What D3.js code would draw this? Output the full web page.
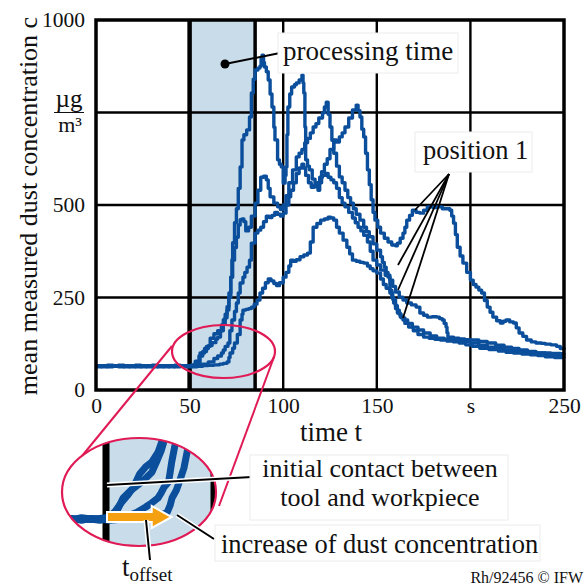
<!DOCTYPE html>
<html>
<head>
<meta charset="utf-8">
<script src="https://cdn.jsdelivr.net/npm/d3@7"></script>
<style>
  body { margin: 0; background: #fff; }
  svg { display: block; }
  text { font-family: "Liberation Serif", "Times New Roman", serif; fill: #111; }
</style>
</head>
<body>
<svg id="chart" width="588" height="587"></svg>
<script>
// ---- data -------------------------------------------------------------
const timeTicks = [0, 50, 100, 150, 200, 250];
const timeTickLabels = ["0", "50", "100", "150", "s", "250"];
const concTicks = [0, 250, 500, 750, 1000];
const concTickLabels = ["0", "250", "500", "", "1000"];
const processingWindow = [50, 85];   // s

// mean measured dust concentration, [time s, c µg/m³]
const run1 = [[0,66],[3,64],[6,67],[9,65],[12,63],[15,66],[18,64],[21,66],[24,63],[27,65],[30,67],[33,64],[36,66],[39,63],[42,65],[45,64],[48,66],[51,68],[53,78],[55,92],[57,104],[59,118],[61,140],[63,152],[65,160],[67,176],[68,190],[69,205],[70,225],[71,262],[72,305],[72.6,352],[73,398],[74,452],[75,490],[76,545],[77,603],[78,676],[79,690],[80.5,703],[82,738],[83,803],[84,840],[85,865],[86.5,870],[87.6,875],[88.2,895],[88.7,905],[89.5,885],[90,873],[91,860],[92,838],[93,800],[94,765],[95,710],[95.6,676],[97,622],[98,610],[99,603],[100,559],[101,580],[101.5,603],[102,690],[102.5,765],[103.5,800],[104.5,819],[106,825],[107,830],[108.5,838],[110,851],[110.6,830],[111,803],[111.6,711],[112,622],[113,605],[114,595],[115.5,570],[117,549],[118.6,540],[119.5,560],[120.5,590],[122,610],[123.5,625],[125,650],[127,676],[128.5,670],[130,684],[131.5,695],[133,711],[135,735],[137,757],[139,770],[140,755],[141,738],[142,705],[143,684],[144,640],[145,595],[146,555],[147,514],[148,480],[149,459],[150.5,440],[152,424],[154,410],[156,400],[158,392],[160,390],[161,397],[162.5,410],[164,424],[165,440],[166,459],[167.5,472],[169,486],[171,480],[173,478],[175,486],[177,495],[180,493],[182,495],[185,490],[189,486],[190,470],[191,451],[192,420],[193,386],[194.5,362],[196,343],[198,318],[200,297],[201.5,285],[203,278],[204.5,270],[206,262],[207.5,242],[209,224],[210.5,210],[212,197],[214,187],[216,181],[217.5,186],[219,189],[221,184],[223,181],[224.5,168],[226,154],[228,145],[230,135],[232.5,130],[235,127],[238,126],[240,124],[243,122],[246,118],[248,112],[250,108]];

const run2 = [[0,64],[3,66],[6,63],[9,65],[12,67],[15,64],[18,65],[21,63],[24,66],[27,64],[30,65],[33,63],[36,66],[39,64],[42,67],[45,65],[48,63],[51,66],[53,72],[55.6,100],[58,112],[60,120],[62,128],[64,138],[65,143],[66.5,160],[68,178],[69,195],[70,216],[71,250],[72,305],[73,351],[74,385],[75,413],[76,446],[77,460],[78,462],[79,455],[80,430],[81.5,440],[83,470],[85,505],[86.5,540],[88,575],[89.5,578],[91,568],[92,545],[93,522],[95,505],[97,495],[98.5,488],[100,500],[101.5,525],[103,560],[105,595],[107,630],[108.5,640],[110,650],[111.5,668],[113,680],[114.5,695],[116,711],[117.5,720],[119,735],[121,749],[122,765],[123,778],[124,745],[125,711],[126,675],[127,640],[128.5,605],[130,576],[131.5,560],[133,540],[134.5,520],[136,505],[137.5,490],[139,475],[141,459],[143,440],[144.5,428],[146,414],[148,395],[150,378],[152,360],[153,345],[154,332],[155,318],[156,305],[157,270],[158,250],[159,235],[160,220],[161,208],[162.5,198],[164,189],[166.5,180],[169,170],[172,162],[175,154],[178.5,146],[182,140],[186,137],[191,135],[195.5,131],[200,127],[204.5,121],[209,116],[213.5,112],[218,108],[222.5,105],[227,103],[231.5,101],[236,100],[240,98],[244,96],[248,95],[250,94]];

const run3 = [[0,65],[3,63],[6,66],[9,64],[12,66],[15,63],[18,65],[21,67],[24,64],[27,66],[30,63],[33,65],[36,64],[39,66],[42,63],[45,66],[48,64],[51,65],[54,67],[57,70],[60,76],[63,85],[65,92],[67,100],[68,108],[69,118],[70.5,127],[71.5,160],[72.6,189],[74,212],[75,235],[76,262],[77,289],[78.5,305],[79.5,318],[80.7,332],[82,351],[83,397],[85,424],[86.5,432],[88,440],[89.5,455],[91,470],[92.5,466],[94,472],[95.5,480],[97,475],[98.5,470],[100,478],[101.5,500],[103,522],[104,540],[105.5,560],[107,585],[108.5,600],[110,610],[111,600],[112,580],[113.5,560],[115,548],[116.5,552],[118,560],[119.5,575],[121,580],[122.5,585],[124,575],[125.5,568],[127,560],[128.5,545],[130,520],[131.5,505],[133,495],[135,480],[137,465],[138.5,452],[140,440],[141.5,430],[143,418],[145,400],[146.5,375],[148,351],[150,338],[152,324],[154.5,310],[157,297],[158.5,280],[160,265],[162,251],[164,243],[166,235],[168.5,230],[171,224],[173,208],[175,202],[177,197],[179.5,198],[182,197],[183.5,193],[185,189],[186,180],[187,170],[187.5,155],[188,143],[191,140],[194,138],[197,136],[200,135],[204.5,131],[209,127],[213.5,121],[218,116],[222,112],[226,108],[230.5,104],[235,100],[239,100],[243,99],[248,98],[250,97]];

const run4 = [[0,63],[3,65],[6,64],[9,66],[12,64],[15,65],[18,63],[21,64],[24,66],[27,63],[30,65],[33,66],[36,63],[39,65],[42,64],[45,66],[48,65],[51,63],[54,64],[57,66],[60,67],[63,68],[66,70],[68,72],[70,76],[71,88],[71.6,100],[73,113],[74,127],[75.5,150],[77,189],[78,205],[78.5,216],[80,218],[81.5,220],[83,224],[84.5,232],[86,243],[87.6,262],[89,275],[90.5,290],[92,300],[93.5,295],[95,288],[96.5,282],[98,290],[100,305],[101.5,318],[103,335],[104,351],[105.5,348],[107,352],[109,360],[111,365],[113,370],[114.5,400],[116,440],[118,450],[120,459],[122,462],[124,467],[125.5,465],[127,459],[128.5,440],[130,424],[132,405],[134,386],[135.5,368],[137,351],[139,348],[141,345],[143,343],[145,335],[146.5,328],[148,322],[150,316],[152,300],[153.5,285],[155,275],[157,262],[158.5,245],[160,228],[161,216],[162,205],[163,195],[165,180],[167,170],[169.5,160],[172,150],[175,143],[178,140],[181,137],[184,135],[187.5,132],[191,130],[194,127],[197.5,122],[201,118],[205,113],[210,109],[215,105],[219,102],[223,100],[227.5,97],[232,95],[236,93],[240,90],[245,88],[250,86]];

const runs = [run1, run2, run3, run4];

// ---- drawing ------------------------------------------------------------
const BLUE = "#0b4f9c";
const SHADE = "#c9dcea";
const RED = "#e01a55";
const ORANGE = "#f5a010";
const SERIF = "Liberation Serif";

const svg = d3.select("#chart");
const x = d3.scaleLinear().domain([0, 250]).range([96, 564]);
const y = d3.scaleLinear().domain([0, 1000]).range([390, 20]);

// processing time band
svg.append("rect")
  .attr("x", x(processingWindow[0])).attr("y", y(1000))
  .attr("width", x(processingWindow[1]) - x(processingWindow[0]))
  .attr("height", y(0) - y(1000))
  .attr("fill", SHADE);

// grid
const grid = svg.append("g").attr("stroke", "#000");
grid.selectAll("line.h").data(concTicks.slice(1, -1)).join("line")
  .attr("x1", x(0)).attr("x2", x(250))
  .attr("y1", d => y(d)).attr("y2", d => y(d))
  .attr("stroke-width", 2.4);
grid.selectAll("line.v").data(timeTicks.slice(2, -1)).join("line")
  .attr("y1", y(0)).attr("y2", y(1000))
  .attr("x1", d => x(d)).attr("x2", d => x(d))
  .attr("stroke-width", 2.4);
grid.append("line")
  .attr("x1", x(processingWindow[0])).attr("x2", x(processingWindow[0]))
  .attr("y1", y(0)).attr("y2", y(1000)).attr("stroke-width", 4.5);
grid.append("line")
  .attr("x1", x(processingWindow[1])).attr("x2", x(processingWindow[1]))
  .attr("y1", y(0)).attr("y2", y(1000)).attr("stroke-width", 3.5);

// measured curves (sampled signal, drawn as steps)
const line = d3.line().x(d => x(d[0])).y(d => y(d[1])).curve(d3.curveStepAfter);
svg.append("g").selectAll("path").data(runs).join("path")
  .attr("d", line)
  .attr("fill", "none").attr("stroke", BLUE)
  .attr("stroke-width", 3.4).attr("stroke-linejoin", "round");

// frame
svg.append("rect")
  .attr("x", x(0)).attr("y", y(1000))
  .attr("width", x(250) - x(0)).attr("height", y(0) - y(1000))
  .attr("fill", "none").attr("stroke", "#000").attr("stroke-width", 3.5);

// axes
const yAxis = d3.axisLeft(y).tickValues(concTicks)
  .tickFormat((d, i) => concTickLabels[i]).tickSize(0).tickPadding(11);
svg.append("g").attr("transform", `translate(${x(0)},0)`).call(yAxis)
  .call(g => g.select(".domain").remove())
  .selectAll("text").attr("font-size", 21.5)
  .attr("font-family", SERIF).attr("fill", "#111");

const xAxis = d3.axisBottom(x).tickValues(timeTicks)
  .tickFormat((d, i) => timeTickLabels[i]).tickSize(0).tickPadding(8);
svg.append("g").attr("transform", `translate(0,${y(0)})`).call(xAxis)
  .call(g => g.select(".domain").remove())
  .selectAll("text").attr("font-size", 21.5)
  .attr("font-family", SERIF).attr("fill", "#111");

// unit µg/m³ at the 750 level
const unit = svg.append("g").attr("text-anchor", "middle");
unit.append("text").attr("x", 69).attr("y", y(750) - 6).attr("font-size", 25).text("µg");
unit.append("line").attr("x1", 54).attr("x2", 84).attr("y1", y(750)).attr("y2", y(750))
  .attr("stroke", "#111").attr("stroke-width", 1);
unit.append("text").attr("x", 70).attr("y", y(750) + 19).attr("font-size", 22)
  .text("m³");

// axis titles
svg.append("text").attr("x", 331).attr("y", 441).attr("text-anchor", "middle")
  .attr("font-size", 27).text("time t");
svg.append("text").attr("transform", "translate(37,206) rotate(-90)")
  .attr("text-anchor", "middle").attr("font-size", 26)
  .text("mean measured dust concentration c");

// label helper: white box with a faint edge
function labelBox(x0, y0, w, h) {
  svg.append("rect").attr("x", x0).attr("y", y0).attr("width", w).attr("height", h)
    .attr("fill", "#fff").attr("stroke", "#ececec").attr("stroke-width", 1);
}

// processing time callout
svg.append("line").attr("x1", 225).attr("y1", 64).attr("x2", 280).attr("y2", 53)
  .attr("stroke", "#000").attr("stroke-width", 2);
svg.append("circle").attr("cx", 225).attr("cy", 64).attr("r", 4.5).attr("fill", "#000");
labelBox(278, 33, 180, 40);
svg.append("text").attr("x", 283).attr("y", 60).attr("font-size", 27).text("processing time");

// position 1 callout
labelBox(415, 132, 117, 40);
svg.append("text").attr("x", 423).attr("y", 159).attr("font-size", 26.5).text("position 1");
const apex = [449, 174];
const pointerEnds = [[415, 210], [398, 265], [398, 290], [403, 318]];
svg.append("g").selectAll("line").data(pointerEnds).join("line")
  .attr("x1", apex[0]).attr("y1", apex[1])
  .attr("x2", d => d[0]).attr("y2", d => d[1])
  .attr("stroke", "#000").attr("stroke-width", 1.8);

// magnifier: ring on the plot, connectors, enlarged inset
const ring = { cx: 223.5, cy: 351.5, rx: 51.5, ry: 26.5 };
const lens = { cx: 139, cy: 492, rx: 77, ry: 54 };

svg.append("line").attr("x1", 172).attr("y1", 346).attr("x2", 82).attr("y2", 456)
  .attr("stroke", RED).attr("stroke-width", 2);
svg.append("line").attr("x1", 274).attr("y1", 357).attr("x2", 219).attr("y2", 506)
  .attr("stroke", RED).attr("stroke-width", 2);
svg.append("ellipse").attr("cx", ring.cx).attr("cy", ring.cy)
  .attr("rx", ring.rx).attr("ry", ring.ry)
  .attr("fill", "none").attr("stroke", RED).attr("stroke-width", 2.2);

const defs = svg.append("defs");
defs.append("clipPath").attr("id", "lensClip").append("ellipse")
  .attr("cx", lens.cx).attr("cy", lens.cy).attr("rx", lens.rx).attr("ry", lens.ry);

const xi = d3.scaleLinear().domain([50, 85]).range([106, 213]);
const yi = d3.scaleLinear().domain([65, 200]).range([519, 438]);
const inset = svg.append("g").attr("clip-path", "url(#lensClip)");
inset.append("rect").attr("x", lens.cx - lens.rx).attr("y", lens.cy - lens.ry)
  .attr("width", lens.rx * 2).attr("height", lens.ry * 2).attr("fill", "#fff");
inset.append("rect").attr("x", xi(processingWindow[0])).attr("y", lens.cy - lens.ry)
  .attr("width", xi(processingWindow[1]) - xi(processingWindow[0]))
  .attr("height", lens.ry * 2).attr("fill", SHADE);
inset.append("line").attr("x1", xi(processingWindow[0])).attr("x2", xi(processingWindow[0]))
  .attr("y1", lens.cy - lens.ry).attr("y2", lens.cy + lens.ry)
  .attr("stroke", "#000").attr("stroke-width", 7);
inset.append("line").attr("x1", xi(processingWindow[1])).attr("x2", xi(processingWindow[1]))
  .attr("y1", lens.cy - lens.ry).attr("y2", lens.cy + lens.ry)
  .attr("stroke", "#000").attr("stroke-width", 5);
const insetLine = d3.line().x(d => xi(d[0])).y(d => yi(d[1]));
inset.append("g").selectAll("path").data(runs).join("path")
  .attr("d", insetLine)
  .attr("fill", "none").attr("stroke", BLUE)
  .attr("stroke-width", 7).attr("stroke-linejoin", "round");

// t_offset arrow from the first contact to the rise of the last run
const arrowStart = xi(processingWindow[0]) + 1;
const arrowEnd = xi(71.5);
const ay = 517;
const arrowPath = `M${arrowStart},${ay - 5} L${arrowEnd - 20},${ay - 5} L${arrowEnd - 20},${ay - 11}
  L${arrowEnd},${ay} L${arrowEnd - 20},${ay + 11} L${arrowEnd - 20},${ay + 5} L${arrowStart},${ay + 5} Z`;
inset.append("path").attr("d", arrowPath).attr("fill", ORANGE)
  .attr("stroke", "#fff").attr("stroke-width", 2).attr("stroke-linejoin", "miter");

svg.append("ellipse").attr("cx", lens.cx).attr("cy", lens.cy)
  .attr("rx", lens.rx).attr("ry", lens.ry)
  .attr("fill", "none").attr("stroke", RED).attr("stroke-width", 2.2);

// inset callouts
function pointer(x1, y1, x2, y2) {
  svg.append("line").attr("x1", x1).attr("y1", y1).attr("x2", x2).attr("y2", y2)
    .attr("stroke", "#fff").attr("stroke-width", 5);
  svg.append("line").attr("x1", x1).attr("y1", y1).attr("x2", x2).attr("y2", y2)
    .attr("stroke", "#000").attr("stroke-width", 2);
}
pointer(107, 485, 252, 477);
labelBox(250, 455, 258, 65);
svg.append("text").attr("x", 380).attr("y", 477).attr("text-anchor", "middle")
  .attr("font-size", 26).text("initial contact between");
svg.append("text").attr("x", 380).attr("y", 506).attr("text-anchor", "middle")
  .attr("font-size", 26).text("tool and workpiece");

pointer(177, 515, 214, 539);
labelBox(215, 525, 325, 36);
svg.append("text").attr("x", 221).attr("y", 553).attr("font-size", 26.5)
  .text("increase of dust concentration");

pointer(146, 520, 150, 560);
const toff = svg.append("text").attr("x", 122).attr("y", 576).attr("font-size", 27);
toff.append("tspan").text("t");
toff.append("tspan").attr("dy", 5).attr("font-size", 19).text("offset");

svg.append("text").attr("x", 583).attr("y", 583).attr("text-anchor", "end")
  .attr("font-size", 16).text("Rh/92456 © IFW");
</script>
</body>
</html>
